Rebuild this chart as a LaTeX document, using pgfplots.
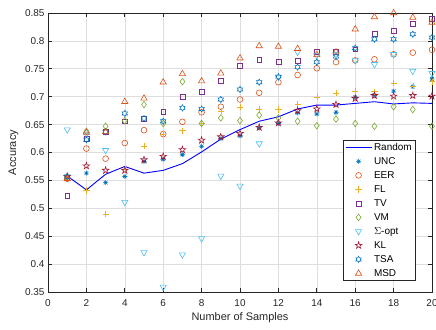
\documentclass[border=0pt]{standalone}
\usepackage{fontspec}
\setmainfont{Liberation Sans}
\usepackage{pgfplots}
\pgfplotsset{compat=1.18}
\definecolor{axgray}{rgb}{0.15,0.15,0.15}
\definecolor{gridgray}{rgb}{0.87,0.87,0.87}
\definecolor{mblue}{rgb}{0,0.447,0.741}
\definecolor{morange}{rgb}{0.85,0.325,0.098}
\definecolor{myellow}{rgb}{0.929,0.694,0.125}
\definecolor{mpurple}{rgb}{0.494,0.184,0.556}
\definecolor{mgreen}{rgb}{0.466,0.674,0.188}
\definecolor{mcyan}{rgb}{0.301,0.745,0.933}
\definecolor{mred}{rgb}{0.635,0.078,0.184}
\pgfdeclareplotmark{pentagram}{%
  \pgfpathmoveto{\pgfpointpolar{90}{\pgfplotmarksize}}%
  \pgfpathlineto{\pgfpointpolar{126}{0.382\pgfplotmarksize}}%
  \pgfpathlineto{\pgfpointpolar{162}{\pgfplotmarksize}}%
  \pgfpathlineto{\pgfpointpolar{198}{0.382\pgfplotmarksize}}%
  \pgfpathlineto{\pgfpointpolar{234}{\pgfplotmarksize}}%
  \pgfpathlineto{\pgfpointpolar{270}{0.382\pgfplotmarksize}}%
  \pgfpathlineto{\pgfpointpolar{306}{\pgfplotmarksize}}%
  \pgfpathlineto{\pgfpointpolar{342}{0.382\pgfplotmarksize}}%
  \pgfpathlineto{\pgfpointpolar{18}{\pgfplotmarksize}}%
  \pgfpathlineto{\pgfpointpolar{54}{0.382\pgfplotmarksize}}%
  \pgfpathclose\pgfusepathqstroke}
\pgfdeclareplotmark{hexagram}{%
  \pgfpathmoveto{\pgfpointpolar{90}{\pgfplotmarksize}}%
  \pgfpathlineto{\pgfpointpolar{120}{0.577\pgfplotmarksize}}%
  \pgfpathlineto{\pgfpointpolar{150}{\pgfplotmarksize}}%
  \pgfpathlineto{\pgfpointpolar{180}{0.577\pgfplotmarksize}}%
  \pgfpathlineto{\pgfpointpolar{210}{\pgfplotmarksize}}%
  \pgfpathlineto{\pgfpointpolar{240}{0.577\pgfplotmarksize}}%
  \pgfpathlineto{\pgfpointpolar{270}{\pgfplotmarksize}}%
  \pgfpathlineto{\pgfpointpolar{300}{0.577\pgfplotmarksize}}%
  \pgfpathlineto{\pgfpointpolar{330}{\pgfplotmarksize}}%
  \pgfpathlineto{\pgfpointpolar{0}{0.577\pgfplotmarksize}}%
  \pgfpathlineto{\pgfpointpolar{30}{\pgfplotmarksize}}%
  \pgfpathlineto{\pgfpointpolar{60}{0.577\pgfplotmarksize}}%
  \pgfpathclose\pgfusepathqstroke}
\pgfdeclareplotmark{matast}{%
  \pgfpathmoveto{\pgfqpoint{0pt}{\pgfplotmarksize}}\pgfpathlineto{\pgfqpoint{0pt}{-\pgfplotmarksize}}%
  \pgfpathmoveto{\pgfqpoint{\pgfplotmarksize}{0pt}}\pgfpathlineto{\pgfqpoint{-\pgfplotmarksize}{0pt}}%
  \pgfpathmoveto{\pgfpointpolar{45}{\pgfplotmarksize}}\pgfpathlineto{\pgfpointpolar{225}{\pgfplotmarksize}}%
  \pgfpathmoveto{\pgfpointpolar{135}{\pgfplotmarksize}}\pgfpathlineto{\pgfpointpolar{315}{\pgfplotmarksize}}%
  \pgfusepathqstroke}
\begin{document}
\begin{tikzpicture}
\begin{axis}[
  scale only axis, width=384bp, height=279bp,
  xmin=0, xmax=20, ymin=0.35, ymax=0.85,
  xtick={0,2,4,6,8,10,12,14,16,18,20},
  xticklabels={0,2,4,6,8,10,12,14,16,18,20},
  ytick={0.35,0.4,0.45,0.5,0.55,0.6,0.65,0.7,0.75,0.8,0.85},
  yticklabels={0.35,0.4,0.45,0.5,0.55,0.6,0.65,0.7,0.75,0.8,0.85},
  tick align=inside, major tick length=4bp,
  grid=major, grid style={color=gridgray, line width=0.6bp},
  axis line style={color=axgray, line width=0.7bp},
  every tick/.style={color=axgray, line width=0.7bp},
  tick label style={font=\fontsize{10}{12}\selectfont, text=axgray},
  xticklabel style={anchor=base, yshift=-14.5bp},
  xlabel={Number of Samples}, ylabel={Accuracy},
  label style={font=\fontsize{11}{13}\selectfont, text=axgray},
  xlabel style={at={(axis description cs:0.5,-0.1039)}, anchor=base},
  ylabel style={at={(axis description cs:-0.0898,0.5)}, anchor=center},
  legend image code/.code={\draw[mark repeat=2,mark phase=2,#1] plot coordinates {(0bp,0bp) (13bp,0bp) (26bp,0bp)};},
  legend style={at={(0.9583,0.0405)}, anchor=south east, draw=axgray, line width=0.6bp, fill=white,
    font=\fontsize{10}{12}\selectfont, inner xsep=2bp, inner ysep=0bp, row sep=0pt,
    nodes={inner xsep=2bp, inner ysep=0bp, minimum height=14bp, text height=8bp, text depth=2.5bp}},
  legend cell align=left,
  every axis plot/.append style={line width=0.6bp},
]
\addplot[color=blue, line width=0.9bp, mark=none] coordinates {
(1,0.558)(2,0.533)(3,0.561)(4,0.575)(5,0.563)(6,0.568)(7,0.580)(8,0.601)(9,0.624)(10,0.641)
(11,0.656)(12,0.664)(13,0.678)(14,0.685)(15,0.685)(16,0.688)(17,0.691)(18,0.687)(19,0.689)(20,0.688)};
\addlegendentry{Random}
\addplot[color=mblue, only marks, mark=matast, mark size=2.5bp] coordinates {
(1,0.557)(2,0.563)(3,0.546)(4,0.557)(5,0.584)(6,0.588)(7,0.596)(8,0.611)(9,0.625)(10,0.630)
(11,0.644)(12,0.652)(13,0.671)(14,0.669)(15,0.672)(16,0.699)(17,0.703)(18,0.710)(19,0.718)(20,0.732)};
\addlegendentry{UNC}
\addplot[color=morange, only marks, mark=o, mark size=2.9bp] coordinates {
(1,0.553)(2,0.607)(3,0.589)(4,0.617)(5,0.640)(6,0.633)(7,0.655)(8,0.672)(9,0.682)(10,0.695)
(11,0.707)(12,0.726)(13,0.739)(14,0.751)(15,0.762)(16,0.765)(17,0.767)(18,0.776)(19,0.779)(20,0.784)};
\addlegendentry{EER}
\addplot[color=myellow, only marks, mark=+, mark size=3.1bp] coordinates {
(1,0.556)(2,0.532)(3,0.490)(4,0.570)(5,0.612)(6,0.633)(7,0.639)(8,0.652)(9,0.674)(10,0.681)
(11,0.677)(12,0.677)(13,0.687)(14,0.699)(15,0.706)(16,0.710)(17,0.709)(18,0.724)(19,0.719)(20,0.727)};
\addlegendentry{FL}
\addplot[color=mpurple, only marks, mark=square, mark size=2.4bp] coordinates {
(1,0.522)(2,0.625)(3,0.637)(4,0.656)(5,0.661)(6,0.673)(7,0.700)(8,0.709)(9,0.729)(10,0.756)
(11,0.766)(12,0.763)(13,0.765)(14,0.781)(15,0.780)(16,0.785)(17,0.813)(18,0.818)(19,0.831)(20,0.840)};
\addlegendentry{TV}
\addplot[color=mgreen, only marks, mark=diamond, mark size=3.3bp] coordinates {
(1,0.556)(2,0.638)(3,0.647)(4,0.657)(5,0.686)(6,0.652)(7,0.727)(8,0.652)(9,0.662)(10,0.657)
(11,0.667)(12,0.662)(13,0.656)(14,0.648)(15,0.660)(16,0.652)(17,0.647)(18,0.682)(19,0.677)(20,0.647)};
\addlegendentry{VM}
\addplot[color=mcyan, only marks, mark=triangle, mark size=3.6bp, mark options={rotate=180}] coordinates {
(1,0.641)(2,0.633)(3,0.604)(4,0.511)(5,0.421)(6,0.359)(7,0.417)(8,0.446)(9,0.558)(10,0.540)
(11,0.616)(12,0.735)(13,0.780)(14,0.774)(15,0.776)(16,0.765)(17,0.758)(18,0.776)(19,0.746)(20,0.742)};
\addlegendentry{$\Sigma$-opt}
\addplot[color=mred, only marks, mark=pentagram, mark size=3.5bp] coordinates {
(1,0.557)(2,0.576)(3,0.568)(4,0.568)(5,0.587)(6,0.593)(7,0.605)(8,0.622)(9,0.628)(10,0.634)
(11,0.645)(12,0.653)(13,0.675)(14,0.678)(15,0.686)(16,0.697)(17,0.702)(18,0.701)(19,0.702)(20,0.701)};
\addlegendentry{KL}
\addplot[color=mblue, only marks, mark=hexagram, mark size=3.1bp] coordinates {
(1,0.557)(2,0.623)(3,0.637)(4,0.670)(5,0.661)(6,0.656)(7,0.680)(8,0.678)(9,0.695)(10,0.713)
(11,0.726)(12,0.736)(13,0.753)(14,0.762)(15,0.772)(16,0.787)(17,0.803)(18,0.803)(19,0.812)(20,0.806)};
\addlegendentry{TSA}
\addplot[color=morange, only marks, mark=triangle, mark size=3.6bp] coordinates {
(1,0.553)(2,0.636)(3,0.637)(4,0.691)(5,0.697)(6,0.726)(7,0.741)(8,0.728)(9,0.742)(10,0.769)
(11,0.791)(12,0.790)(13,0.786)(14,0.775)(15,0.780)(16,0.821)(17,0.843)(18,0.850)(19,0.842)(20,0.833)};
\addlegendentry{MSD}
\end{axis}
\pgfresetboundingbox
\path[use as bounding box] (-48bp,-38bp) rectangle (388bp,292bp);
\end{tikzpicture}
\end{document}
